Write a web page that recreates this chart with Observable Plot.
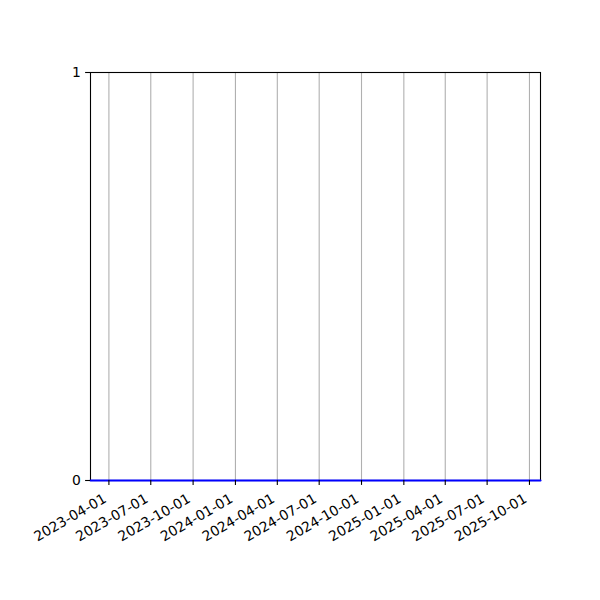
<!DOCTYPE html>
<html>
<head>
<meta charset="utf-8">
<script src="https://cdn.jsdelivr.net/npm/d3@7"></script>
<script src="https://cdn.jsdelivr.net/npm/@observablehq/plot@0.6"></script>
<style>
  html, body { margin: 0; padding: 0; background: #fff; }
  #chart { width: 600px; height: 600px; }
</style>
</head>
<body>
<div id="chart"></div>
<script>
// Data
const dates = ["2023-02-20", "2025-10-25"];
const values = [0, 0];
const xTickLabels = ["2023-04-01","2023-07-01","2023-10-01","2024-01-01","2024-04-01","2024-07-01","2024-10-01","2025-01-01","2025-04-01","2025-07-01","2025-10-01"];
const yTicks = [0, 1];
const xDomain = ["2023-02-20", "2025-10-25"];

const parse = d3.utcParse("%Y-%m-%d");
const rows = dates.map((d, i) => ({date: parse(d), value: values[i]}));
const xTicks = xTickLabels.map(parse);
const fmt = d3.utcFormat("%Y-%m-%d");
const font = "DejaVu Sans, sans-serif";
const fs = 13.9;

const chart = Plot.plot({
  width: 600,
  height: 600,
  marginLeft: 90,
  marginRight: 60,
  marginTop: 72,
  marginBottom: 120,
  style: {fontFamily: font, background: "white", overflow: "visible"},
  x: {type: "utc", domain: xDomain.map(parse), axis: null},
  y: {domain: [0, 1], axis: null},
  marks: [
    Plot.ruleX(xTicks, {x: d => d, stroke: "#b0b0b0", strokeWidth: 1.1}),
    Plot.frame({stroke: "black", strokeWidth: 1.1}),
    Plot.lineY(rows, {x: "date", y: "value", stroke: "#0000ff", strokeWidth: 2.1}),
    Plot.axisX(xTicks, {tickSize: 4.9, tickFormat: () => "", label: null, stroke: "black", strokeWidth: 1.1, strokeOpacity: 1}),
    Plot.axisY(yTicks, {tickSize: 4.9, tickFormat: () => "", label: null, stroke: "black", strokeWidth: 1.1, strokeOpacity: 1}),
    Plot.text(xTicks, {x: d => d, frameAnchor: "bottom", dx: -1.6, dy: 20.9, text: d => fmt(d), rotate: -30, textAnchor: "end", lineAnchor: "bottom", fontSize: fs, fill: "black"}),
    Plot.text(yTicks, {y: d => d, frameAnchor: "left", dx: -9.7, text: d => String(d), textAnchor: "end", fontSize: fs, fill: "black"})
  ]
});
document.getElementById("chart").appendChild(chart);
</script>
</body>
</html>
